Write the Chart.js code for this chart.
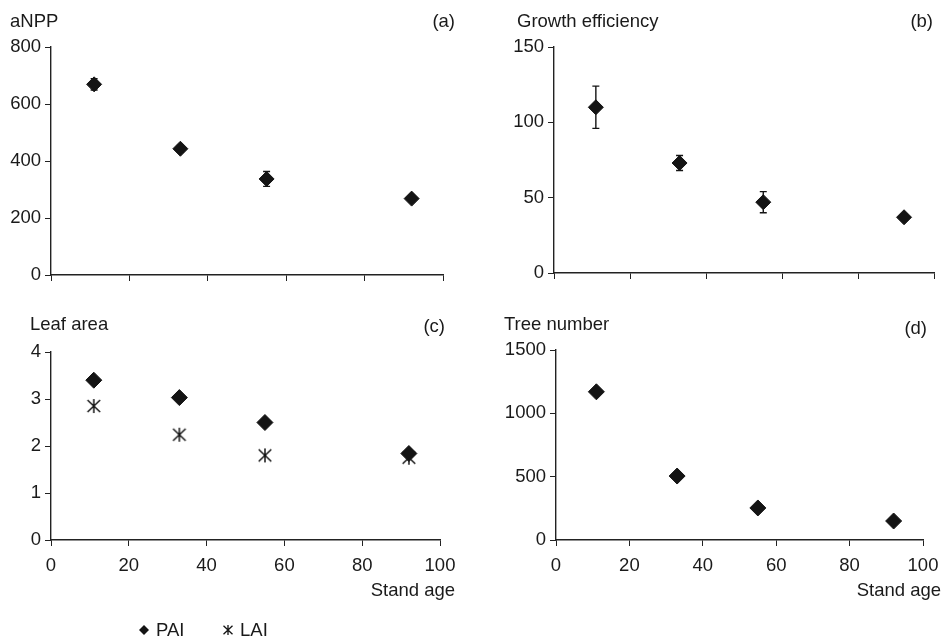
<!DOCTYPE html>
<html>
<head>
<meta charset="utf-8">
<script src="https://cdn.jsdelivr.net/npm/chart.js@4/dist/chart.umd.min.js"></script>
<style>
  body { margin: 0; background: #fff; }
  #wrap { position: relative; width: 943px; height: 637px; }
  canvas { position: absolute; }
</style>
</head>
<body>
<div id="wrap">
  <canvas id="chartA" width="470" height="300" style="left:0;top:0"></canvas>
  <canvas id="chartB" width="473" height="300" style="left:470px;top:0"></canvas>
  <canvas id="chartC" width="470" height="337" style="left:0;top:300px"></canvas>
  <canvas id="chartD" width="473" height="337" style="left:470px;top:300px"></canvas>
</div>
<script>
// data
const standAge = [11, 33, 55, 92];
const anpp = [669, 443, 337, 268];
const anppErr = [20, 12, 26, 10];
const growthEff = [110, 73, 47, 37];
const growthEffErr = [14, 5, 7, 2];
const pai = [3.4, 3.03, 2.5, 1.84];
const lai = [2.85, 2.24, 1.8, 1.75];
const treeNumber = [1170, 505, 253, 150];
const xTicks = [0, 20, 40, 60, 80, 100];

const INK = "#141414";
const FONT = "'Liberation Sans', Arial, sans-serif";
Chart.defaults.font.family = FONT;
Chart.defaults.font.size = 18.5;
Chart.defaults.color = "#1a1a1a";

// asterisk marker for LAI
function makeAsterisk(size, lw) {
  const c = document.createElement("canvas");
  c.width = size; c.height = size;
  const g = c.getContext("2d");
  const h = size / 2, r = size / 2 - 1;
  g.strokeStyle = INK;
  g.lineWidth = lw;
  g.beginPath();
  g.moveTo(h - r * 0.9, h - r * 0.85); g.lineTo(h + r * 0.9, h + r * 0.85);
  g.moveTo(h + r * 0.9, h - r * 0.85); g.lineTo(h - r * 0.9, h + r * 0.85);
  g.moveTo(h, h - r); g.lineTo(h, h + r);
  g.stroke();
  return c;
}
const asterisk = makeAsterisk(16, 1.5);
const asteriskSmall = makeAsterisk(12, 1.3);

function pts(ys) {
  return ys.map((y, i) => ({ x: standAge[i], y: y }));
}

// error bars drawn under the markers
const errorBarPlugin = {
  id: "errorBars",
  beforeDatasetsDraw(chart) {
    const ctx = chart.ctx, xs = chart.scales.x, ys = chart.scales.y;
    chart.data.datasets.forEach(ds => {
      if (!ds.errors) return;
      ctx.save();
      ctx.strokeStyle = INK;
      ctx.lineWidth = 1.4;
      ds.data.forEach((p, i) => {
        const e = ds.errors[i];
        const px = xs.getPixelForValue(p.x);
        const top = ys.getPixelForValue(p.y + e);
        const bot = ys.getPixelForValue(p.y - e);
        ctx.beginPath();
        ctx.moveTo(px, top); ctx.lineTo(px, bot);
        ctx.moveTo(px - 3.5, top); ctx.lineTo(px + 3.5, top);
        ctx.moveTo(px - 3.5, bot); ctx.lineTo(px + 3.5, bot);
        ctx.stroke();
      });
      ctx.restore();
    });
  }
};

// panel heading, letter and x title
const panelTextPlugin = {
  id: "panelText",
  afterDraw(chart, args, o) {
    const ctx = chart.ctx;
    ctx.save();
    ctx.fillStyle = "#1a1a1a";
    ctx.font = "18.5px " + FONT;
    ctx.textBaseline = "middle";
    ctx.textAlign = "left";
    ctx.fillText(o.label, o.labelX, o.labelY);
    ctx.textAlign = "right";
    ctx.fillText(o.letter, o.letterX, o.letterY);
    if (o.xTitle) ctx.fillText(o.xTitle, o.xTitleX, o.xTitleY);
    if (o.legend) {
      const y = o.legend.y;
      ctx.textAlign = "left";
      // PAI
      ctx.fillStyle = INK;
      ctx.beginPath();
      const dx = o.legend.x1, r = 5;
      ctx.moveTo(dx, y - r); ctx.lineTo(dx + r, y); ctx.lineTo(dx, y + r); ctx.lineTo(dx - r, y);
      ctx.closePath(); ctx.fill();
      ctx.fillStyle = "#1a1a1a";
      ctx.fillText(chart.data.datasets[0].label, dx + 12, y + 1);
      const ax = o.legend.x2;
      ctx.drawImage(asteriskSmall, ax - 6, y - 6);
      ctx.fillText(chart.data.datasets[1].label, ax + 12, y + 1);
    }
    ctx.restore();
  }
};

function makeChart(id, datasets, cfg) {
  return new Chart(document.getElementById(id), {
    type: "scatter",
    data: { datasets: datasets },
    plugins: [errorBarPlugin, panelTextPlugin],
    options: {
      responsive: false,
      animation: false,
      layout: { padding: { top: cfg.top, right: cfg.right, left: 0, bottom: 0 } },
      plugins: {
        legend: { display: false },
        tooltip: { enabled: false },
        panelText: cfg.text
      },
      scales: {
        x: {
          type: "linear", min: 0, max: 100,
          afterBuildTicks: s => { s.ticks = xTicks.map(v => ({ value: v })); },
          grid: { drawOnChartArea: false, drawTicks: true, tickLength: 6, color: "#222" },
          border: { color: "#222", width: 1.4 },
          ticks: { display: cfg.xLabels, padding: 9, maxRotation: 0, callback: v => String(v) },
          afterFit: s => { s.height = cfg.xHeight; s.paddingRight = 0; s.paddingLeft = 0; }
        },
        y: {
          min: 0, max: cfg.yMax,
          ticks: { stepSize: cfg.yStep, padding: 4, callback: v => String(v) },
          grid: { drawOnChartArea: false, drawTicks: true, tickLength: 6, color: "#222" },
          border: { color: "#222", width: 1.4 },
          afterFit: s => { s.width = cfg.yWidth; }
        }
      }
    }
  });
}

const diamond = { pointStyle: "rectRot", pointRadius: 7.5, backgroundColor: INK, borderColor: INK, borderWidth: 1 };

makeChart("chartA",
  [Object.assign({ label: "aNPP", data: pts(anpp), errors: anppErr }, diamond)],
  { top: 47, right: 27, yWidth: 51, xHeight: 25, yMax: 800, yStep: 200, xLabels: false,
    text: { label: "aNPP", labelX: 10, labelY: 22, letter: "(a)", letterX: 455, letterY: 22 } });

makeChart("chartB",
  [Object.assign({ label: "Growth efficiency", data: pts(growthEff), errors: growthEffErr }, diamond)],
  { top: 47, right: 7, yWidth: 84, xHeight: 27, yMax: 150, yStep: 50, xLabels: false,
    text: { label: "Growth efficiency", labelX: 47, labelY: 22, letter: "(b)", letterX: 463, letterY: 22 } });

makeChart("chartC",
  [Object.assign({ label: "PAI", data: pts(pai) }, diamond, { pointRadius: 8 }),
   { label: "LAI", data: pts(lai), pointStyle: asterisk, pointRadius: 8 }],
  { top: 52, right: 30, yWidth: 51, xHeight: 97, yMax: 4, yStep: 1, xLabels: true,
    text: { label: "Leaf area", labelX: 30, labelY: 25, letter: "(c)", letterX: 445, letterY: 27,
            xTitle: "Stand age", xTitleX: 455, xTitleY: 291,
            legend: { x1: 144, x2: 228, y: 330 } } });

makeChart("chartD",
  [Object.assign({ label: "Tree number", data: pts(treeNumber) }, diamond, { pointRadius: 8 })],
  { top: 50, right: 20, yWidth: 86, xHeight: 97, yMax: 1500, yStep: 500, xLabels: true,
    text: { label: "Tree number", labelX: 34, labelY: 25, letter: "(d)", letterX: 457, letterY: 29,
            xTitle: "Stand age", xTitleX: 471, xTitleY: 291 } });
</script>
</body>
</html>
